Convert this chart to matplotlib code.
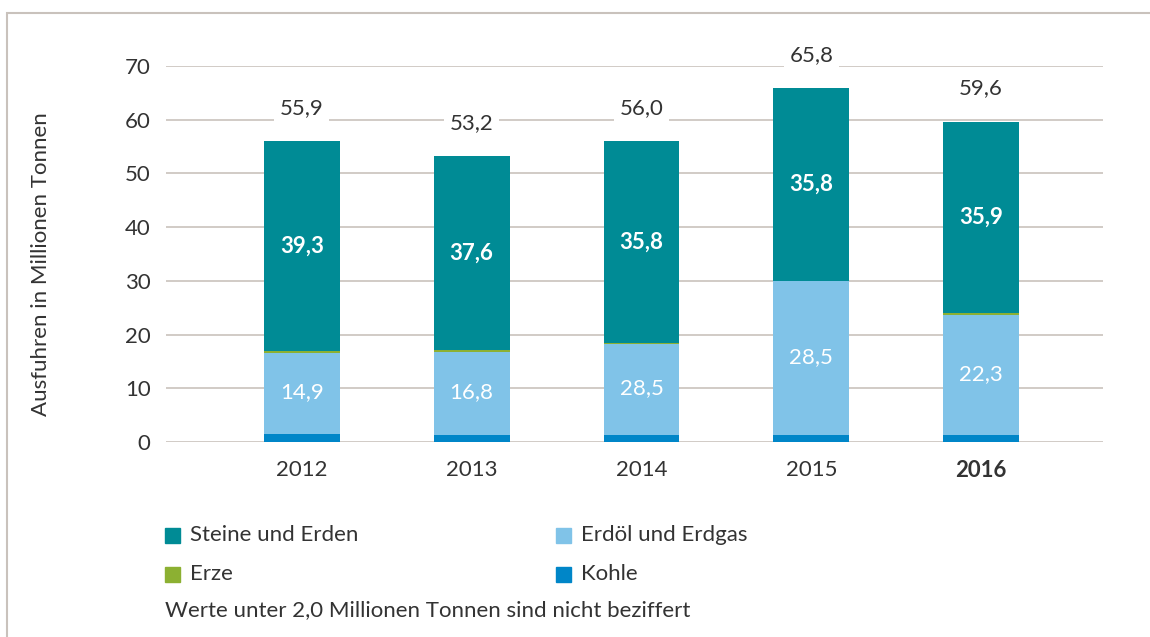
import matplotlib.pyplot as plt
from matplotlib.patches import Rectangle

plt.rcParams["font.family"] = ["Lato", "DejaVu Sans"]

years = ["2012", "2013", "2014", "2015", "2016"]
# segment heights
kohle = [1.4, 1.25, 1.25, 1.25, 1.25]
erdoel = [15.1, 15.45, 17.05, 28.65, 22.35]
erze = [0.35, 0.35, 0.15, 0.15, 0.35]
steine = [39.15, 36.15, 37.55, 35.85, 35.65]
# labels as printed in the chart
steine_labels = ["39,3", "37,6", "35,8", "35,8", "35,9"]
erdoel_labels = ["14,9", "16,8", "28,5", "28,5", "22,3"]
total_labels = ["55,9", "53,2", "56,0", "65,8", "59,6"]

c_steine = "#008b95"
c_erdoel = "#80c3e8"
c_erze = "#8cb032"
c_kohle = "#0086c8"
grid_c = "#c9c2bc"
text_c = "#333333"
fs = 16

fig = plt.figure(figsize=(11.5, 6.37), dpi=100)
ax = fig.add_axes([166 / 1150, 195 / 637, (1103 - 166) / 1150, 376 / 637])

x = list(range(len(years)))
w = 0.447
b1 = kohle
b2 = [a + b for a, b in zip(b1, erdoel)]
b3 = [a + b for a, b in zip(b2, erze)]
tops = [a + b for a, b in zip(b3, steine)]

ax.bar(x, kohle, w, color=c_kohle, zorder=3)
ax.bar(x, erdoel, w, bottom=b1, color=c_erdoel, zorder=3)
ax.bar(x, erze, w, bottom=b2, color=c_erze, zorder=3)
ax.bar(x, steine, w, bottom=b3, color=c_steine, zorder=3)

for i in x:
    ax.text(i, (b3[i] + tops[i]) / 2, steine_labels[i], ha="center", va="center",
            color="white", fontsize=fs, fontweight="bold", zorder=4)
    ax.text(i, (b1[i] + b2[i]) / 2 + 0.3, erdoel_labels[i], ha="center", va="center",
            color="white", fontsize=fs, zorder=4)
    ax.annotate(total_labels[i], (i, tops[i]), xytext=(0, 24), textcoords="offset points",
                ha="center", va="center", color=text_c, fontsize=fs, zorder=4,
                bbox=dict(facecolor="white", edgecolor="none", pad=4))

ax.set_xlim(-0.8, 4.718)
ax.set_ylim(0, 70)
ax.set_yticks(range(0, 71, 10))
ax.yaxis.grid(True, color=grid_c, linewidth=1.2, zorder=0)
ax.set_axisbelow(True)
for s in ax.spines.values():
    s.set_visible(False)
ax.tick_params(axis="both", length=0, labelsize=fs, colors=text_c)
ax.tick_params(axis="y", pad=11)
ax.tick_params(axis="x", pad=13)
ax.set_xticks(x)
ax.set_xticklabels(years)
ax.get_xticklabels()[-1].set_fontweight("bold")

fig.text(41 / 1150, 1 - 264 / 637, "Ausfuhren in Millionen Tonnen", rotation=90,
         ha="center", va="center", fontsize=fs, color=text_c)

# legend
items = [("Steine und Erden", c_steine, 165, 535), ("Erdöl und Erdgas", c_erdoel, 556, 535),
         ("Erze", c_erze, 165, 574), ("Kohle", c_kohle, 556, 574)]
for label, col, px, py in items:
    fig.patches.append(Rectangle((px / 1150, 1 - (py + 7.5) / 637), 15 / 1150, 15 / 637,
                                 transform=fig.transFigure, color=col))
    fig.text((px + 25) / 1150, 1 - py / 637, label, ha="left", va="center",
             fontsize=fs, color=text_c)
fig.text(165 / 1150, 1 - 610 / 637, "Werte unter 2,0 Millionen Tonnen sind nicht beziffert",
         ha="left", va="center", fontsize=fs, color=text_c)

# frame around the figure
fig.patches.append(Rectangle((7 / 1150, -0.1), 1.2, 1 - 13 / 637 + 0.1, transform=fig.transFigure,
                             fill=False, edgecolor=grid_c, linewidth=1.5))

fig.savefig("out.png", dpi=100)
